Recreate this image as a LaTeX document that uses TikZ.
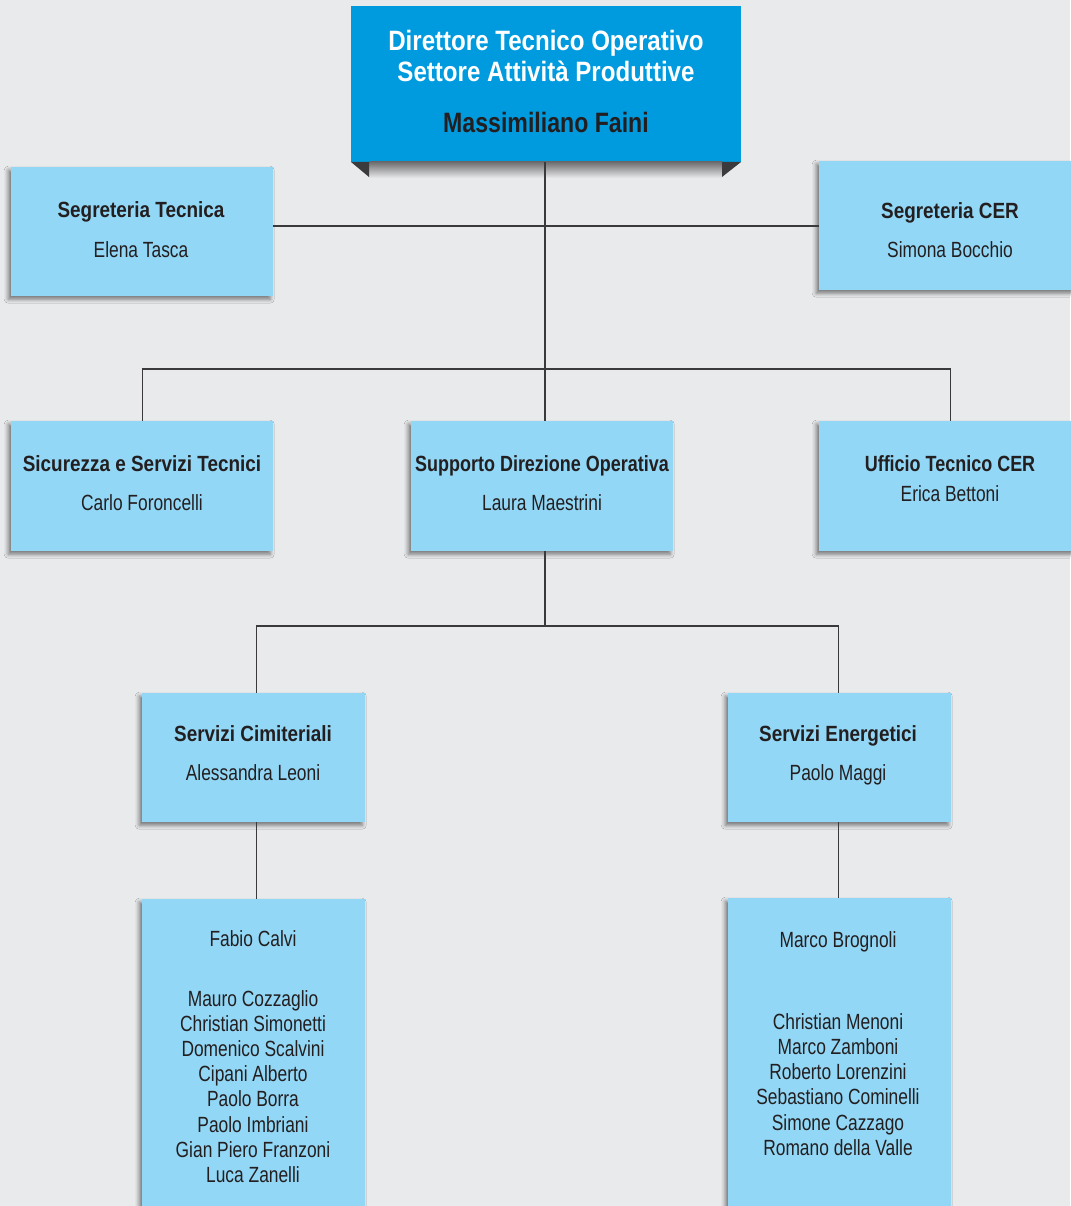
\documentclass[tikz,border=0pt]{standalone}
\usepackage{fontspec}
\setmainfont{Liberation Sans}[FakeStretch=0.79]
\newfontfamily\cb{Liberation Sans}[FakeStretch=0.86]
\usetikzlibrary{shadows.blur}
\definecolor{bg}{HTML}{E9EAEC}
\definecolor{topblue}{HTML}{009ADE}
\definecolor{lightb}{HTML}{93D7F6}
\definecolor{ink}{HTML}{231F20}
\definecolor{linec}{HTML}{3A3A3C}
\definecolor{bandtop}{HTML}{6E6E70}
\definecolor{corner}{HTML}{3B3B3D}
\tikzset{
  box/.style={fill=lightb, draw=none, inner sep=0pt, anchor=north west,
    blur shadow={shadow xshift=-3pt, shadow yshift=-3pt, shadow blur radius=4pt, shadow opacity=50}},
  ttl/.style={font=\fontsize{22}{26}\selectfont\cb\bfseries, text=ink, anchor=base, inner sep=0pt},
  nm/.style={font=\fontsize{22}{26}\selectfont, text=ink, anchor=base, inner sep=0pt},
  lst/.style={font=\fontsize{22}{25.15}\selectfont, text=ink, anchor=center, inner sep=0pt, align=center},
  toptxt/.style={font=\fontsize{28}{31}\selectfont\cb\bfseries, anchor=base, inner sep=0pt},
  conn/.style={draw=linec, line width=1.2pt}
}
\begin{document}
\begin{tikzpicture}[x=1pt,y=-1pt]
\fill[bg] (0,0) rectangle (1070,1206);
\useasboundingbox (0,0) rectangle (1070,1206);

\coordinate (j1) at (545,226);
\coordinate (j2) at (545,369);
\coordinate (j3) at (545,626);

% top box
\node[fill=topblue, inner sep=0pt, anchor=north west, minimum width=390pt, minimum height=156pt] (top) at (351,6) {};
\shade[top color=bandtop, bottom color=bg] (369,162) rectangle (722,178);
\fill[corner] (351,162) -- (369,162) -- (369,177) -- cycle;
\fill[corner] (722,162) -- (741,162) -- (722,177) -- cycle;
\node[toptxt, text=white] (t1) at (546,51) {Direttore Tecnico Operativo};
\node[toptxt, text=white] (t2) at (546,82) {Settore Attività Produttive};
\node[toptxt, text=ink] (t3) at (546,133) {\scalebox{0.96}[1]{Massimiliano Faini}};

% boxes
\node[box, minimum width=262pt, minimum height=129pt] (segt) at (11,167) {};
\node[box, minimum width=262pt, minimum height=129pt] (segc) at (819,161) {};
\node[box, minimum width=262pt, minimum height=130pt] (sic) at (11,421) {};
\node[box, minimum width=262pt, minimum height=130pt] (supp) at (411,421) {};
\node[box, minimum width=262pt, minimum height=130pt] (uff) at (819,421) {};
\node[box, minimum width=223pt, minimum height=129pt] (cim) at (142,693) {};
\node[box, minimum width=223pt, minimum height=129pt] (ene) at (728,693) {};
\node[box, minimum width=223pt, minimum height=320pt] (fab) at (142,899) {};
\node[box, minimum width=223pt, minimum height=320pt] (mar) at (728,898) {};

% connectors
\draw[conn] (top.south -| j1) -- (j1 |- supp.north);
\draw[conn] (segt.east |- j1) -- (segc.west |- j1);
\draw[conn] (sic.north) |- (j2) -| (uff.north);
\draw[conn] (supp.south -| j3) -- (j3);
\draw[conn] ([xshift=2.5pt]cim.north) |- (j3) -| ([xshift=-1pt]ene.north);
\draw[conn] ([xshift=2.5pt]cim.south) -- ([xshift=2.5pt]fab.north);
\draw[conn] ([xshift=-1pt]ene.south) -- ([xshift=-1pt]mar.north);

% texts
\node[ttl] (segtT) at (141,218) {Segreteria Tecnica};
\node[nm] (segtN) at (141,257) {Elena Tasca};
\node[ttl] (segcT) at (950,219) {Segreteria CER};
\node[nm] (segcN) at (950,257) {Simona Bocchio};
\node[ttl] (sicT) at (142,471) {Sicurezza e Servizi Tecnici};
\node[nm] (sicN) at (142,510) {Carlo Foroncelli};
\node[ttl] (suppT) at (542,471) {\scalebox{0.95}[1]{Supporto Direzione Operativa}};
\node[nm] (suppN) at (542,510) {Laura Maestrini};
\node[ttl] (uffT) at (950,471) {\scalebox{0.95}[1]{Ufficio Tecnico CER}};
\node[nm] (uffN) at (950,501) {Erica Bettoni};
\node[ttl] (cimT) at (253,741) {Servizi Cimiteriali};
\node[nm] (cimN) at (253,780) {Alessandra Leoni};
\node[ttl] (eneT) at (838,741) {Servizi Energetici};
\node[nm] (eneN) at (838,780) {Paolo Maggi};
\node[nm] (fabN) at (253,946) {Fabio Calvi};
\node[lst] (fabL) at (253,1086.4) {Mauro Cozzaglio\\Christian Simonetti\\Domenico Scalvini\\Cipani Alberto\\Paolo Borra\\Paolo Imbriani\\Gian Piero Franzoni\\Luca Zanelli};
\node[nm] (marN) at (838,947) {Marco Brognoli};
\node[lst] (marL) at (838,1084.4) {Christian Menoni\\Marco Zamboni\\Roberto Lorenzini\\Sebastiano Cominelli\\Simone Cazzago\\Romano della Valle};
\end{tikzpicture}
\end{document}
